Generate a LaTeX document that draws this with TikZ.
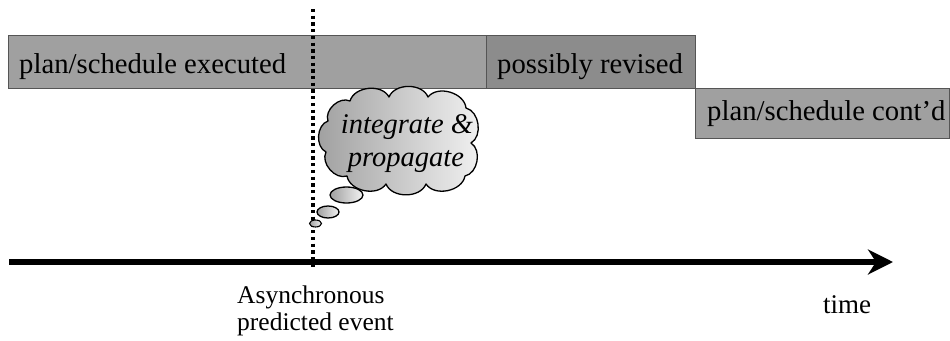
\documentclass[tikz,border=0pt]{standalone}
\usepackage{fontspec}
\setmainfont{Liberation Serif}
\usetikzlibrary{shapes.geometric,arrows.meta}
\definecolor{boxgray}{HTML}{A0A0A0}
\definecolor{revgray}{HTML}{8C8C8C}
\definecolor{edgegray}{HTML}{555555}
\begin{document}
\begin{tikzpicture}[x=1pt,y=-1pt,
  phase/.style={draw=edgegray,line width=0.9pt,fill=boxgray,anchor=north west,inner sep=0pt},
  boxtext/.style={anchor=base west,inner sep=0pt,font=\fontsize{28.7}{33}\selectfont},
  axistext/.style={anchor=base west,inner sep=0pt,font=\fontsize{25.5}{27}\selectfont,align=left},
  bubble/.style={draw=black,line width=1.3pt,left color=gray!75,right color=gray!10,inner sep=0pt},
  puff/.style={bend left=68},
  eventline/.style={line width=3.3pt,dash pattern=on 3.3pt off 3.4pt},
  timeaxis/.style={line width=6.5pt,-{Stealth[length=25pt,width=25pt,inset=8pt]}}]
\useasboundingbox (0,0) rectangle (950,340);

% schedule phases
\node[phase,minimum width=478pt,minimum height=53pt] (exec) at (8,35) {};
\node[phase,fill=revgray,minimum width=209pt,minimum height=53pt] (rev) at (486,35) {};
\node[phase,minimum width=254pt,minimum height=50pt] (cont) at (695,88) {};
\node[boxtext] (execT) at (19,73) {plan/schedule executed};
\node[boxtext] (revT) at (497,73) {possibly revised};
\node[boxtext] (contT) at (707,120) {plan/schedule cont’d};

% asynchronous event marker
\coordinate (evtop) at (313,9);
\coordinate (evbot) at (313,267);
\draw[eventline] (evtop) -- (evbot);

% thought cloud, built from puffs between the cusp points
\draw[bubble,line join=round]
  (328,121) to[puff] (350,101) to[puff] (389,97) to[puff] (428,97)
  to[puff] (466,108) to[puff] (471,143) to[puff] (465,176)
  to[puff] (426,184) to[puff] (386,184) to[puff] (347,176)
  to[puff] (326,152) to[puff] (328,121) -- cycle;
\node[inner sep=0pt,anchor=base,font=\itshape\fontsize{28.5}{33}\selectfont] (intT) at (407,133) {integrate \&};
\node[inner sep=0pt,anchor=base,font=\itshape\fontsize{28.5}{33}\selectfont] (propT) at (406,166) {propagate};
\node[ellipse,bubble,minimum width=33pt,minimum height=16pt] (b1) at (346.5,195) {};
\node[ellipse,bubble,minimum width=22pt,minimum height=12pt] (b2) at (328,212) {};
\node[ellipse,bubble,line width=1.1pt,minimum width=12pt,minimum height=7pt] (b3) at (315.5,223.5) {};

% time axis
\coordinate (t0) at (9,262);
\coordinate (t1) at (893,262);
\draw[timeaxis] (t0) -- (t1);
\node[axistext] (evT) at (237,330) {Asynchronous\\predicted event};
\node[axistext,font=\fontsize{27}{29}\selectfont] (timeT) at (823,313) {time};
\end{tikzpicture}
\end{document}
